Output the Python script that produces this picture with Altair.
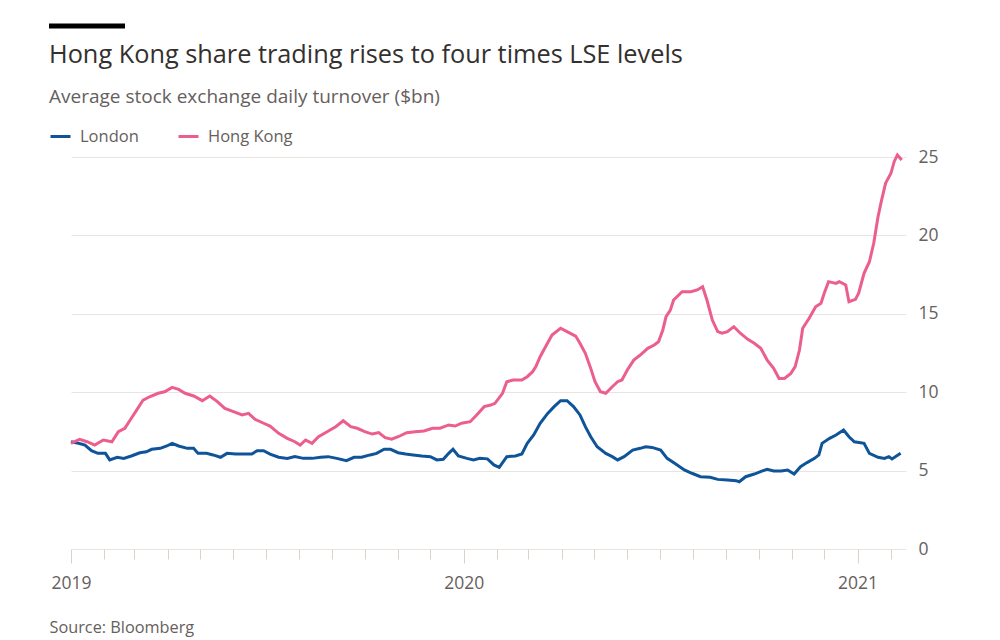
import altair as alt
import pandas as pd

# Days since 2019-01-01 and values ($bn)
lon_days = [0, 7, 13, 19, 25, 32, 36, 43, 49, 56,
            64, 70, 75, 83, 89, 94, 100, 108, 114, 118,
            126, 132, 139, 145, 153, 160, 168, 173, 179, 185,
            193, 201, 208, 216, 224, 232, 239, 247, 256, 263,
            270, 278, 284, 291, 297, 304, 311, 318, 326, 334,
            340, 346, 351, 355, 360, 368, 374, 380, 387, 393,
            398, 405, 413, 419, 424, 430, 436, 443, 449, 455,
            461, 467, 473, 478, 483, 489, 497, 503, 508, 514,
            522, 529, 534, 540, 548, 554, 562, 570, 577, 585,
            594, 601, 610, 618, 621, 627, 635, 642, 647, 653,
            660, 666, 672, 678, 684, 691, 695, 698, 705, 711,
            718, 723, 728, 737, 742, 750, 756, 760, 763, 771]
lon_vals = [6.84, 6.74, 6.63, 6.27, 6.1, 6.1, 5.68, 5.85, 5.78, 5.93,
            6.14, 6.2, 6.36, 6.42, 6.57, 6.74, 6.57, 6.42, 6.42, 6.1,
            6.1, 6.0, 5.85, 6.1, 6.06, 6.06, 6.06, 6.27, 6.27, 6.05,
            5.85, 5.78, 5.89, 5.78, 5.78, 5.85, 5.89, 5.78, 5.63, 5.85,
            5.85, 6.0, 6.1, 6.36, 6.36, 6.14, 6.06, 6.0, 5.93, 5.89,
            5.68, 5.72, 6.1, 6.36, 5.93, 5.78, 5.68, 5.78, 5.75, 5.36,
            5.21, 5.89, 5.93, 6.06, 6.74, 7.27, 8.02, 8.65, 9.08, 9.46,
            9.46, 9.08, 8.55, 7.8, 7.16, 6.52, 6.1, 5.89, 5.68, 5.89,
            6.31, 6.42, 6.52, 6.48, 6.31, 5.78, 5.42, 5.04, 4.83, 4.61,
            4.57, 4.44, 4.4, 4.36, 4.29, 4.61, 4.78, 4.97, 5.08, 4.97,
            4.97, 5.04, 4.78, 5.25, 5.51, 5.78, 6.0, 6.74, 7.06, 7.27,
            7.59, 7.16, 6.84, 6.74, 6.1, 5.85, 5.78, 5.89, 5.74, 6.1]

hk_days = [0, 8, 15, 22, 30, 38, 44, 50, 55, 61,
           67, 73, 81, 87, 94, 100, 106, 114, 122, 129,
           136, 143, 151, 159, 165, 171, 179, 185, 193, 201,
           208, 213, 218, 224, 230, 238, 246, 253, 260, 266,
           273, 280, 286, 292, 298, 304, 312, 320, 328, 336,
           343, 351, 357, 363, 371, 377, 384, 390, 394, 401,
           405, 411, 419, 424, 429, 432, 436, 441, 447, 455,
           461, 469, 473, 478, 483, 487, 492, 497, 503, 508,
           512, 517, 523, 529, 536, 542, 546, 550, 553, 557,
           560, 568, 576, 582, 587, 591, 596, 601, 605, 610,
           616, 622, 629, 635, 641, 647, 653, 658, 663, 669,
           673, 677, 680, 686, 692, 697, 700, 704, 711, 714,
           720, 723, 729, 732, 737, 742, 746, 750, 753, 757,
           762, 765, 768, 772]
hk_vals = [6.74, 7.0, 6.84, 6.63, 6.95, 6.84, 7.48, 7.7, 8.23, 8.86,
           9.5, 9.71, 9.93, 10.03, 10.31, 10.18, 9.93, 9.76, 9.46, 9.76,
           9.4, 8.97, 8.76, 8.55, 8.65, 8.27, 8.02, 7.84, 7.38, 7.06,
           6.84, 6.63, 6.95, 6.74, 7.16, 7.48, 7.8, 8.18, 7.8, 7.7,
           7.48, 7.33, 7.42, 7.1, 7.0, 7.16, 7.42, 7.48, 7.53, 7.7,
           7.7, 7.91, 7.84, 8.02, 8.12, 8.55, 9.08, 9.18, 9.29, 9.93,
           10.67, 10.78, 10.78, 10.99, 11.31, 11.63, 12.26, 12.9, 13.65, 14.08,
           13.86, 13.58, 13.12, 12.48, 11.52, 10.67, 10.03, 9.93, 10.35, 10.67,
           10.78, 11.42, 12.05, 12.37, 12.8, 13.01, 13.22, 13.97, 14.82, 15.24,
           15.88, 16.41, 16.41, 16.52, 16.73, 15.88, 14.6, 13.86, 13.76, 13.86,
           14.18, 13.76, 13.37, 13.12, 12.8, 12.05, 11.52, 10.88, 10.88, 11.2,
           11.63, 12.69, 14.08, 14.71, 15.45, 15.67, 16.31, 17.05, 16.94, 17.05,
           16.84, 15.77, 15.92, 16.31, 17.58, 18.32, 19.5, 21.19, 22.15, 23.32,
           23.96, 24.7, 25.13, 24.81]

series_names = ["London", "Hong Kong"]
series_colors = ["#0f5499", "#eb5e8d"]
y_ticks = [0, 5, 10, 15, 20, 25]
title_text = "Hong Kong share trading rises to four times LSE levels"
subtitle_text = "Average stock exchange daily turnover ($bn)"
source_text = "Source: Bloomberg"

start = pd.Timestamp("2019-01-01")
df = pd.concat([
    pd.DataFrame({"date": start + pd.to_timedelta(lon_days, unit="D"),
                  "value": lon_vals, "series": "London"}),
    pd.DataFrame({"date": start + pd.to_timedelta(hk_days, unit="D"),
                  "value": hk_vals, "series": "Hong Kong"}),
], ignore_index=True)
df["date"] = df["date"].dt.strftime("%Y-%m-%d")

month_ticks = []
for yr in (2019, 2020):
    for m in range(1, 13):
        month_ticks.append(alt.DateTime(year=yr, month=m, date=1))
for m in (1, 2):
    month_ticks.append(alt.DateTime(year=2021, month=m, date=1))

FONT = "Open Sans"
GREY = "#66605c"

lines = alt.Chart(df).mark_line(strokeWidth=3).encode(
    x=alt.X(
        "date:T",
        scale=alt.Scale(domain=[alt.DateTime(year=2019, month=1, date=1),
                                alt.DateTime(year=2021, month=2, date=15)]),
        axis=alt.Axis(
            values=month_ticks,
            labelExpr="month(datum.value) === 0 ? timeFormat(datum.value, '%Y') : ''",
            tickSize={"condition": {"test": "month(datum.value) === 0", "value": 14}, "value": 10},
            tickColor="#d9d2cc",
            domain=False,
            grid=False,
            labelFont=FONT,
            labelFontSize=17.5,
            labelColor=GREY,
            labelPadding=11,
            labelFlush=False,
            labelOverlap=False,
            title=source_text,
            titleFont=FONT,
            titleFontSize=16.3,
            titleFontWeight="normal",
            titleColor=GREY,
            titleAnchor="start",
            titleAlign="left",
            titleBaseline="alphabetic",
            titleX=-22,
            titleY=83,
        ),
    ),
    y=alt.Y(
        "value:Q",
        scale=alt.Scale(domain=[0, 25], nice=False),
        axis=alt.Axis(
            orient="right",
            values=y_ticks,
            domain=False,
            ticks=False,
            gridColor="#ebe4de",
            gridWidth=1,
            labelFont=FONT,
            labelFontSize=17.5,
            labelColor=GREY,
            labelPadding=12,
            title=None,
        ),
    ),
    color=alt.Color(
        "series:N",
        scale=alt.Scale(domain=series_names, range=series_colors),
        legend=alt.Legend(
            title=None,
            orient="none",
            legendX=-22,
            legendY=-32,
            direction="horizontal",
            symbolType="stroke",
            symbolStrokeWidth=3,
            symbolSize=400,
            labelFont=FONT,
            labelFontSize=16.5,
            labelColor=GREY,
            labelOffset=8,
            columnPadding=33,
        ),
    ),
)

bar = alt.Chart(pd.DataFrame({"k": [0]})).mark_rule(color="#000000", strokeWidth=5).encode(
    x=alt.value(-22), x2=alt.value(54), y=alt.value(-131)
)

title = alt.Chart(pd.DataFrame({"t": [title_text]})).mark_text(
    align="left", baseline="alphabetic", font=FONT, fontSize=25.3, color="#33302e"
).encode(x=alt.value(-22), y=alt.value(-94), text="t:N")

subtitle = alt.Chart(pd.DataFrame({"t": [subtitle_text]})).mark_text(
    align="left", baseline="alphabetic", font=FONT, fontSize=19, color=GREY
).encode(x=alt.value(-22), y=alt.value(-54), text="t:N")

chart = alt.layer(lines, bar, title, subtitle).properties(
    width=835,
    height=392,
    autosize=alt.AutoSizeParams(type="none"),
    padding={"left": 63, "top": 149, "right": 60, "bottom": 90},
).configure(background="#ffffff").configure_view(stroke=None)

chart.save("out.html", embed_options={"renderer": "svg", "actions": False})
